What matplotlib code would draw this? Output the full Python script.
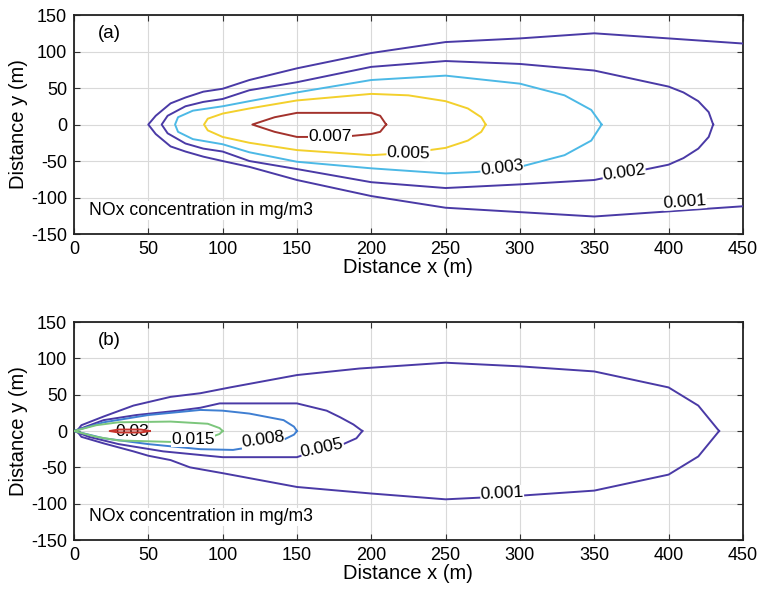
import matplotlib
matplotlib.use('Agg')
import matplotlib.pyplot as plt

plt.rcParams['font.family'] = ['Liberation Sans', 'DejaVu Sans']

# ---- panel (a): contour outlines (x, y in m) ----
a_levels = ['0.001', '0.002', '0.003', '0.005', '0.007']
a_colors = ['#4a3aa6', '#4a3aa6', '#4cb9e6', '#f3d02c', '#a3322c']
a_x = [
    [450, 350, 300, 250, 200, 150, 118, 100, 87, 75, 65, 55, 50, 55, 65, 75, 87, 100, 118, 150, 200, 250, 300, 350, 450],
    [430, 427, 420, 410, 400, 350, 300, 250, 200, 150, 118, 100, 87, 75, 63, 59, 63, 75, 87, 100, 118, 150, 200, 250, 300, 350, 400, 410, 420, 427, 430],
    [355, 348, 330, 300, 250, 200, 150, 118, 100, 80, 70, 68, 70, 80, 100, 118, 150, 200, 250, 271, 300, 330, 348, 355],
    [277, 274, 265, 250, 225, 200, 150, 118, 100, 90, 87.5, 90, 100, 118, 150, 200, 225, 250, 265, 274, 277],
    [210, 206, 200, 150, 135, 120, 135, 150, 180, 200, 206, 210],
]
a_y = [
    [111, 125, 118, 113, 98, 77, 61, 49, 45, 37, 29, 12, 0, -13, -30, -37, -44, -50, -58, -76, -98, -114, -120, -126, -112],
    [0, 17, 32, 44, 52, 74, 83, 87, 79, 58, 47, 35, 31, 25, 12, 0, -12, -26, -33, -37, -50, -61, -79, -87, -82, -76, -55, -46, -33, -17, 0],
    [0, 20, 40, 56, 67, 61, 44, 32, 25, 19, 10, 0, -10, -20, -27, -38, -51, -60, -67, -65, -58, -42, -22, 0],
    [0, 10, 22, 32, 40, 42, 33, 22, 15, 8, 0, -8, -17, -25, -35, -42, -39, -32, -22, -10, 0],
    [0, 12, 16, 16, 10, 0, -10, -17, -17, -13, -10, 0],
]
a_lab_xy = [(411, -106), (370, -66), (288, -60), (225, -39), (172, -17)]
a_lab_rot = [4, 8, 7, -2, 0]

# ---- panel (b) ----
b_levels = ['0.001', '0.005', '0.008', '0.015', '0.03']
b_colors = ['#4a3aa6', '#4a3aa6', '#3f7fd2', '#7cc67c', '#c8342c']
b_x = [
    [434, 420, 400, 350, 300, 250, 192, 150, 105, 85, 65, 40, 20, 5, 2, 5, 20, 40, 50, 65, 78, 100, 150, 200, 250, 300, 350, 400, 420, 434],
    [194, 188, 179, 170, 150, 98, 85, 70, 42, 20, 0, 10, 30, 60, 100, 150, 167, 179, 190, 194],
    [150, 148, 141, 118, 100, 85, 50, 20, 0, 20, 50, 85, 107, 125, 141, 148, 150],
    [100, 98, 90, 65, 30, 15, 0, 15, 30, 65, 90, 98, 100],
    [51, 45, 30, 24, 30, 45, 51],
]
b_y = [
    [0, 35, 60, 82, 89, 94, 86, 77, 60, 52, 47, 35, 20, 8, 0, -8, -17, -28, -34, -40, -50, -58, -77, -86, -94, -89, -82, -60, -35, 0],
    [0, 9, 19, 28, 38, 38, 32, 28, 22, 15, 0, -8, -18, -28, -36, -36, -24, -20, -10, 0],
    [0, 6, 15, 24, 28, 29, 22, 12, 0, -10, -18, -25, -26, -20, -12, -5, 0],
    [0, 4, 10, 13, 12, 8, 0, -8, -13, -15, -10, -4, 0],
    [0, 2, 2, 0, -2, -2, 0],
]
b_lab_xy = [(288, -86), (167, -23), (127, -12), (80, -12), (39, -1)]
b_lab_rot = [3, 12, 8, 0, 0]

xticks = [0, 50, 100, 150, 200, 250, 300, 350, 400, 450]
yticks = [-150, -100, -50, 0, 50, 100, 150]

fig = plt.figure(figsize=(7.61, 5.95), dpi=100)
ax1 = fig.add_axes([0.0972, 0.6067, 0.879, 0.368])
ax2 = fig.add_axes([0.0972, 0.0924, 0.879, 0.3664])

panels = [
    (ax1, '(a)', a_levels, a_colors, a_x, a_y, a_lab_xy, a_lab_rot),
    (ax2, '(b)', b_levels, b_colors, b_x, b_y, b_lab_xy, b_lab_rot),
]
for ax, tag, levels, colors, xs, ys, lab_xy, lab_rot in panels:
    for i in range(len(levels)):
        ax.plot(xs[i], ys[i], color=colors[i], lw=1.4, zorder=3)
        if levels[i] == '0.03':
            # the small red contour runs right through its label
            ax.text(lab_xy[i][0], lab_xy[i][1], levels[i], fontsize=12.5, rotation=lab_rot[i],
                    ha='center', va='center', zorder=2)
        else:
            ax.text(lab_xy[i][0], lab_xy[i][1], levels[i], fontsize=12.5, rotation=lab_rot[i],
                    ha='center', va='center', zorder=4,
                    bbox=dict(facecolor='white', edgecolor='none', pad=0.1))
    ax.set_xlim(0, 450)
    ax.set_ylim(-150, 150)
    ax.set_xticks(xticks)
    ax.set_yticks(yticks)
    ax.set_yticklabels([str(t) for t in yticks])  # plain hyphen minus like the original
    ax.tick_params(labelsize=13, direction='in', top=True, right=True, length=4,
                   color='#333333', pad=5)
    ax.grid(True, color='#d9d9d9', lw=0.8)
    ax.set_axisbelow(True)
    for s in ax.spines.values():
        s.set_linewidth(1.3)
        s.set_color('#222222')
    ax.set_xlabel('Distance x (m)', fontsize=14.5, labelpad=0)
    ax.set_ylabel('Distance y (m)', fontsize=14.5, labelpad=2)
    ax.text(24, 125, tag, fontsize=13.5, ha='center', va='center')
    ax.text(10, -118, 'NOx concentration in mg/m3', fontsize=12.7, ha='left', va='center',
            bbox=dict(facecolor='white', edgecolor='none', pad=0.5))

fig.savefig('out.png', dpi=100)
